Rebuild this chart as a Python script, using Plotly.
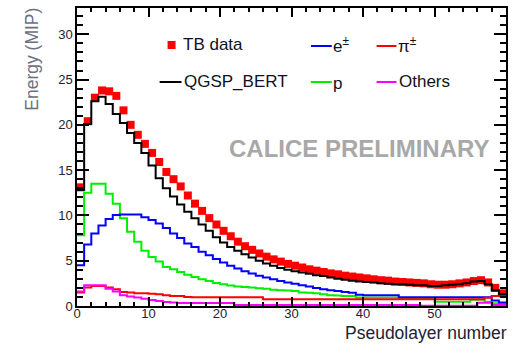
import numpy as np
import plotly.graph_objects as go

# Pseudolayer bins 0..59 (bin k spans [k, k+1])
tb_data = [13.1, 20.4, 23.0, 23.8, 23.7, 23.2, 21.6, 20.0, 18.9, 17.9,
           16.9, 15.9, 14.8, 14.0, 13.2, 12.2, 11.3, 10.5, 9.7, 9.0,
           8.3, 7.7, 7.1, 6.6, 6.2, 5.8, 5.45, 5.15, 4.9, 4.65,
           4.45, 4.25, 4.05, 3.9, 3.75, 3.6, 3.5, 3.35, 3.25, 3.15,
           3.05, 2.95, 2.85, 2.8, 2.7, 2.65, 2.6, 2.55, 2.5, 2.4,
           2.35, 2.35, 2.4, 2.5, 2.6, 2.75, 2.85, 2.6, 2.0, 1.4]
qgsp_bert = [12.8, 20.1, 22.6, 23.1, 22.3, 21.2, 20.2, 19.1, 18.0, 16.9,
             15.5, 14.1, 13.0, 12.1, 11.2, 10.4, 9.7, 9.0, 8.3, 7.6,
             7.0, 6.5, 6.1, 5.7, 5.35, 5.0, 4.7, 4.45, 4.2, 4.0,
             3.85, 3.7, 3.55, 3.4, 3.3, 3.15, 3.0, 2.9, 2.8, 2.7,
             2.65, 2.6, 2.5, 2.45, 2.4, 2.4, 2.35, 2.3, 2.3, 2.2,
             2.2, 2.3, 2.35, 2.4, 2.5, 2.7, 2.75, 2.4, 1.7, 1.3]
electrons = [4.5, 6.8, 8.0, 8.9, 9.6, 10.05, 10.1, 10.1, 10.1, 9.8,
             9.5, 9.1, 8.6, 8.0, 7.5, 6.9, 6.5, 6.0, 5.6, 5.2,
             4.8, 4.45, 4.15, 3.85, 3.6, 3.35, 3.15, 2.95, 2.75, 2.6,
             2.45, 2.3, 2.15, 2.0, 1.85, 1.75, 1.65, 1.55, 1.45, 1.25,
             1.2, 1.2, 1.2, 1.2, 1.2, 0.97, 0.97, 0.97, 0.97, 0.97,
             0.97, 0.97, 0.97, 0.97, 0.97, 0.97, 0.97, 0.97, 0.6, 0.4]
protons = [7.8, 12.5, 13.5, 13.5, 12.4, 11.3, 9.7, 8.2, 7.1, 6.1,
           5.4, 4.9, 4.3, 4.05, 3.75, 3.45, 3.2, 2.95, 2.75, 2.55,
           2.4, 2.25, 2.15, 2.1, 2.05, 1.95, 1.9, 1.8, 1.75, 1.7,
           1.65, 1.5, 1.45, 1.4, 1.3, 1.2, 1.15, 1.1, 1.1, 0.95,
           0.95, 0.95, 0.95, 0.95, 0.95, 0.8, 0.8, 0.8, 0.8, 0.8,
           0.47, 0.47, 0.47, 0.47, 0.47, 0.7, 0.7, 0.47, 0.3, 0.3]
pions = [1.5, 2.05, 2.2, 2.2, 2.05, 1.85, 1.55, 1.5, 1.4, 1.4,
         1.35, 1.3, 1.2, 1.1, 1.1, 1.0, 0.97, 0.97, 0.97, 0.97,
         0.97, 0.97, 0.97, 0.97, 0.97, 0.97, 0.75, 0.75, 0.75, 0.75,
         0.75, 0.75, 0.75, 0.75, 0.75, 0.75, 0.75, 0.75, 0.75, 0.75,
         0.75, 0.75, 0.75, 0.75, 0.75, 0.75, 0.75, 0.75, 0.75, 0.75,
         0.75, 0.75, 0.75, 0.75, 0.75, 0.75, 0.75, 0.9, 1.1, 1.1]
others = [1.6, 2.3, 2.3, 2.3, 1.9, 1.6, 1.2, 1.05, 0.95, 0.8,
          0.65, 0.55, 0.45, 0.4, 0.32, 0.32, 0.32, 0.32, 0.32, 0.32,
          0.32, 0.32, 0.12, 0.12, 0.12, 0.12, 0.12, 0.12, 0.12, 0.12,
          0.12, 0.12, 0.12, 0.12, 0.12, 0.12, 0.12, 0.12, 0.12, 0.12,
          0.12, 0.12, 0.12, 0.12, 0.12, 0.12, 0.12, 0.12, 0.02, 0.02,
          0.02, 0.02, 0.02, 0.02, 0.02, 0.02, 0.35, 0.35, 0.1, 0.1]

x_ticks = [0, 10, 20, 30, 40, 50, 60]
y_ticks = [0, 5, 10, 15, 20, 25, 30]

n = len(tb_data)
edges = np.arange(n + 1)
centers = np.arange(n) + 0.5

FONT = "Liberation Sans, Arial, sans-serif"

fig = go.Figure()

fig.add_trace(go.Scatter(x=centers, y=tb_data, mode="markers",
                         marker=dict(symbol="square", size=8, color="#ff0000",
                                     line=dict(width=0)),
                         showlegend=False, hoverinfo="skip"))


def step(vals, color):
    fig.add_trace(go.Scatter(x=edges, y=list(vals) + [vals[-1]], mode="lines",
                             line=dict(shape="hv", color=color, width=2),
                             showlegend=False, hoverinfo="skip"))


step(protons, "#00ee00")
step(electrons, "#0000ff")
step(pions, "#ff0000")
step(others, "#ff00ff")
step(qgsp_bert, "#000000")

L, R, T, B = 77, 5, 8, 41
W, H = 513, 347
pw, ph = W - L - R, H - T - B


def px(xp):
    return (xp - L) / pw


def py(yp):
    return (H - B - yp) / ph


shapes = []
annotations = []


def leg_line(x0, x1, y, color):
    shapes.append(dict(type="line", xref="paper", yref="paper",
                       x0=px(x0), x1=px(x1), y0=py(y), y1=py(y),
                       line=dict(color=color, width=2)))


def leg_text(x, y, text):
    annotations.append(dict(xref="paper", yref="paper", x=px(x), y=py(y),
                            xanchor="left", yanchor="middle", showarrow=False,
                            text=text, font=dict(family=FONT, size=17, color="#111122")))


shapes.append(dict(type="rect", xref="paper", yref="paper",
                   x0=px(168), x1=px(176), y0=py(49), y1=py(41),
                   fillcolor="#ff0000", line=dict(width=0)))
leg_text(181, 45, "TB data")
leg_line(160, 182, 82, "#000000")
leg_text(182, 82, "QGSP_BERT")
leg_line(312, 333, 46, "#0000ff")
leg_text(332, 45, "e<sup>±</sup>")
leg_line(312, 333, 82, "#00ee00")
leg_text(332, 83, "p")
leg_line(378, 398, 46, "#ff0000")
leg_text(397, 45, "π<sup>±</sup>")
leg_line(378, 398, 82, "#ff00ff")
leg_text(398, 82, "Others")

annotations.append(dict(xref="paper", yref="paper", x=px(360), y=py(148),
                        xanchor="center", yanchor="middle", showarrow=False,
                        text="<b>CALICE PRELIMINARY</b>",
                        font=dict(family=FONT, size=24, color="#a8a8a8")))

annotations.append(dict(xref="paper", yref="paper", x=px(32), y=py(6),
                        xanchor="center", yanchor="top", showarrow=False,
                        textangle=-90, text="Energy (MIP)",
                        font=dict(family=FONT, size=17.5, color="#6a7080")))
annotations.append(dict(xref="paper", yref="paper", x=px(511), y=py(333),
                        xanchor="right", yanchor="middle", showarrow=False,
                        text="Pseudolayer number",
                        font=dict(family=FONT, size=17.5, color="#222233")))

axis_common = dict(showgrid=False, zeroline=False, showline=True,
                   linecolor="black", linewidth=1.5, mirror="ticks",
                   ticks="inside", tickcolor="black", tickwidth=1.5,
                   tickfont=dict(family=FONT, size=13, color="#222233"))

fig.update_layout(
    width=W, height=H,
    margin=dict(l=L, r=R, t=T, b=B, pad=0),
    paper_bgcolor="white", plot_bgcolor="white",
    shapes=shapes, annotations=annotations,
    xaxis=dict(range=[0, 60], tickvals=x_ticks, ticktext=[str(v) for v in x_ticks],
               ticklen=9, ticklabelstandoff=-5,
               minor=dict(dtick=2, tick0=0, ticklen=4, ticks="inside",
                          tickcolor="black", tickwidth=1.5),
               **axis_common),
    yaxis=dict(range=[0, 32.9], tickvals=y_ticks, ticktext=[str(v) for v in y_ticks],
               ticklen=12,
               minor=dict(dtick=1, tick0=0, ticklen=6, ticks="inside",
                          tickcolor="black", tickwidth=1.5),
               **axis_common),
)

fig.write_html("out.html", config={"displayModeBar": False},
               post_script="document.body.style.margin='0';document.body.style.overflow='hidden';")
